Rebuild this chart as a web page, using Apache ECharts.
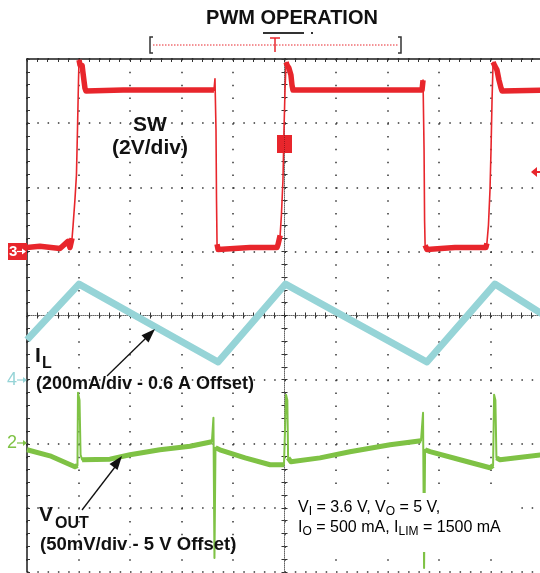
<!DOCTYPE html>
<html><head><meta charset="utf-8">
<script src="https://cdn.jsdelivr.net/npm/echarts@6/dist/echarts.min.js"></script>
<style>html,body{margin:0;padding:0;background:#fff;}#c{width:540px;height:573px;}</style>
</head><body><div id="c"></div>
<script>
// ---- time base: 10 divisions, 200 ns/div ----
const timeMin = 0, timeMax = 2000, timePerDiv = 200;
const divsY = 8;

// ---- SW (channel 3): 2 V/div, ground marker 1 div above centre ----
const swAxis = { min: -10, max: 6, perDiv: 2 };
const swTime = [0, 50, 128, 159, 167, 175, 179, 186, 192, 196, 200, 202, 206, 210, 214, 217, 221, 225, 229, 373, 726,
  730, 734, 736, 738, 742, 866, 971, 975, 983, 988, 994, 998, 1002, 1006, 1010, 1017, 1025, 1029, 1033, 1293, 1534,
  1538, 1542, 1544, 1546, 1553, 1662, 1782, 1786, 1792, 1798, 1802, 1806, 1810, 1817, 1825, 1833, 1841, 1845, 2000];
const swVolt = [0.12, 0.16, 0.09, 0.31, 0.12, 0.41, 0.81, 1.59, 2.38, 3.78, 5.34, 5.97, 5.81, 5.75, 5.80, 5.60, 5.34, 5.09, 5.00, 5.03, 5.03,
  5.38, 3.78, 1.59, 0.22, 0.06, 0.12, 0.12, 0.22, 0.50, 1.13, 2.22, 3.78, 5.03, 5.90, 5.81, 5.72, 5.50, 5.19, 5.03, 5.03, 5.03,
  5.34, 3.16, 0.97, 0.19, 0.06, 0.12, 0.12, 0.25, 0.81, 1.91, 3.16, 4.72, 5.90, 5.78, 5.66, 5.34, 5.09, 5.00, 5.03];

// ---- IL (channel 4): 200 mA/div, 0.6 A offset at marker (1 div below centre) ----
const ilAxis = { min: 0.0, max: 1.6, perDiv: 0.2 };
const ilTime = [0, 202, 742, 1004, 1553, 1817, 2000];
const ilAmp  = [0.724, 0.898, 0.655, 0.898, 0.655, 0.898, 0.805];

// ---- VOUT (channel 2): 50 mV/div, 5 V offset at marker (2 div below centre) ----
const voAxis = { min: 4.9, max: 5.3, perDiv: 0.05 };
const voTime = [0, 89, 186, 196, 198, 204, 208, 214, 322, 400, 516, 633, 718, 722, 724, 728, 732, 749, 847, 944, 998,
  1006, 1011, 1014, 1025, 1138, 1254, 1410, 1530, 1536, 1538, 1542, 1546, 1565, 1682, 1798, 1810, 1814, 1819, 1823, 1837, 2000];
const voVolt = [4.9953, 4.9906, 4.9820, 4.9830, 5.0398, 5.0340, 4.9914, 4.9875, 4.9880, 4.9914, 4.9953, 4.9980, 5.0016, 5.0030, 5.0203, 4.9110, 4.9969, 4.9953, 4.9890, 4.9836, 4.9836,
  5.0383, 5.0340, 4.9890, 4.9860, 4.9890, 4.9938, 4.9992, 5.0023, 5.0030, 5.0242, 4.9031, 4.9953, 4.9938, 4.9875, 4.9813, 4.9830, 5.0383, 5.0340, 4.9890, 4.9875, 4.9914];

// ---- text ----
const titleText = 'PWM OPERATION';
const swLabel = ['SW', '(2V/div)'];
const ilLabel = ['I', 'L', '(200mA/div - 0.6 A Offset)'];
const voLabel = ['V', 'OUT', '(50mV/div - 5 V Offset)'];
const condLine1 = '{m|V}{s|I}{m| = 3.6 V, V}{s|O}{m| = 5 V,}';
const condLine2 = '{m|I}{s|O}{m| = 500 mA, I}{s|LIM}{m| = 1500 mA}';

// ---- colours ----
const cSW = '#e8262c', cIL = '#96d4d7', cVO = '#7fc245', cGrid = '#333';

const zip = (a, b) => a.map((v, i) => [v, b[i]]);
function bandData(ts, vs, maxSlope, minDt) {
  const out = []; let open = false;
  for (let i = 0; i + 1 < ts.length; i++) {
    const dt = ts[i + 1] - ts[i];
    const flat = dt >= minDt && Math.abs(vs[i + 1] - vs[i]) / dt <= maxSlope;
    if (flat) { if (!open) out.push([ts[i], vs[i]]); out.push([ts[i + 1], vs[i + 1]]); open = true; }
    else if (open) { out.push(['-', '-']); open = false; }
  }
  return out;
}

const G = { left: 27, top: 59, width: 515, height: 513, containLabel: false, outerBoundsMode: 'none' };
const grids = [0, 1, 2, 3, 4, 5].map(() => Object.assign({}, G));
const hidX = (g) => ({ gridIndex: g, type: 'value', min: timeMin, max: timeMax, show: false });
const hidY = (g, a) => ({ gridIndex: g, type: 'value', min: a.min, max: a.max, show: false });

const tickStyle = { color: '#333', width: 1 };
const xAxes = [
  { gridIndex: 0, type: 'value', position: 'top', min: timeMin, max: timeMax, interval: timePerDiv,
    axisLine: { show: true, onZero: false, lineStyle: { color: '#1a1a1a', width: 1.5 } },
    axisTick: { show: true, inside: true, length: 3, lineStyle: tickStyle },
    minorTick: { show: true, splitNumber: 5, length: 3, lineStyle: tickStyle },
    axisLabel: { show: false },
    splitLine: { show: true, lineStyle: { color: cGrid, width: 1.5, type: [1.5, 11.33] } } },
  { gridIndex: 1, type: 'value', min: -1000, max: 1000, interval: timePerDiv,
    axisLine: { show: true, onZero: true, lineStyle: { color: '#666', width: 1, type: [1, 1] } },
    axisTick: { show: true, inside: true, length: 3, lineStyle: tickStyle },
    minorTick: { show: true, splitNumber: 5, length: 3, lineStyle: tickStyle },
    axisLabel: { show: false }, splitLine: { show: false } },
  { gridIndex: 2, type: 'value', min: -1000, max: 1000, interval: timePerDiv,
    axisLine: { show: true, onZero: true, lineStyle: { color: 'rgba(0,0,0,0)', width: 1 } },
    axisTick: { show: true, inside: false, length: 3, lineStyle: tickStyle },
    minorTick: { show: true, splitNumber: 5, length: 3, lineStyle: tickStyle },
    axisLabel: { show: false }, splitLine: { show: false } },
  hidX(3), hidX(4), hidX(5)
];
const yAxes = [
  { gridIndex: 0, type: 'value', position: 'left', min: -divsY / 2, max: divsY / 2, interval: 1,
    axisLine: { show: true, onZero: false, lineStyle: { color: '#1a1a1a', width: 1.5 } },
    axisTick: { show: true, inside: true, length: 3, lineStyle: tickStyle },
    minorTick: { show: true, splitNumber: 5, length: 3, lineStyle: tickStyle },
    axisLabel: { show: false },
    splitLine: { show: true, lineStyle: { color: cGrid, width: 1.5, type: [1.5, 8.8] } } },
  { gridIndex: 1, type: 'value', min: -divsY / 2, max: divsY / 2, interval: 1,
    axisLine: { show: true, onZero: true, lineStyle: { color: '#666', width: 1, type: [1, 1] } },
    axisTick: { show: true, inside: true, length: 3, lineStyle: tickStyle },
    minorTick: { show: true, splitNumber: 5, length: 3, lineStyle: tickStyle },
    axisLabel: { show: false }, splitLine: { show: false } },
  { gridIndex: 2, type: 'value', min: -divsY / 2, max: divsY / 2, interval: 1,
    axisLine: { show: true, onZero: true, lineStyle: { color: 'rgba(0,0,0,0)', width: 1 } },
    axisTick: { show: true, inside: false, length: 3, lineStyle: tickStyle },
    minorTick: { show: true, splitNumber: 5, length: 3, lineStyle: tickStyle },
    axisLabel: { show: false }, splitLine: { show: false } },
  hidY(3, ilAxis), hidY(4, voAxis), hidY(5, swAxis)
];

const line = (xi, data, color, width, z) => ({
  type: 'line', xAxisIndex: xi, yAxisIndex: xi, data, symbol: 'none', showSymbol: false, silent: true,
  connectNulls: false, lineStyle: { color, width, join: 'round' }, z
});

const series = [
  line(3, zip(ilTime, ilAmp), cIL, 7, 3),
  line(4, bandData(voTime, voVolt, 0.002, 8), cVO, 5, 4),
  line(4, zip(voTime, voVolt), cVO, 2, 4),
  line(5, bandData(swTime, swVolt, 0.08, 0), cSW, 5.5, 5),
  line(5, zip(swTime, swVolt), cSW, 1.6, 5)
];

const F = '"Liberation Sans", Arial, sans-serif';
const T = (x, y, text, font, fill, align) => ({ type: 'text', x, y, z: 60,
  style: { text, font: font + ' ' + F, fill, align: align || 'left', verticalAlign: 'middle' } });
const L = (x1, y1, x2, y2, stroke, w, dash) => ({ type: 'line', z: 55, shape: { x1, y1, x2, y2 },
  style: { stroke, lineWidth: w, lineDash: dash || null } });
const P = (pts, fill) => ({ type: 'polygon', z: 55, shape: { points: pts }, style: { fill } });
const richSt = { m: { fontSize: 16, fontFamily: F, color: '#333', lineHeight: 20, verticalAlign: 'middle' },
                 s: { fontSize: 12, fontFamily: F, color: '#333', lineHeight: 10, verticalAlign: 'bottom' } };

const graphic = [
  T(292, 18, titleText, 'bold 20px', '#111', 'center'),
  L(263, 33, 304, 33, '#333', 2), L(311, 33, 313, 33, '#333', 2),
  { type: 'polyline', z: 55, shape: { points: [[153, 37], [150, 37], [150, 53], [153, 53]] }, style: { stroke: '#333', lineWidth: 1.5, fill: null } },
  { type: 'polyline', z: 55, shape: { points: [[398, 37], [401, 37], [401, 53], [398, 53]] }, style: { stroke: '#333', lineWidth: 1.5, fill: null } },
  L(153, 45, 398, 45, cSW, 1, [1.5, 1.5]),
  L(270, 38, 280, 38, cSW, 1.5), L(275, 38, 275, 52, cSW, 1.5),
  { type: 'rect', z: 55, shape: { x: 277, y: 135, width: 15, height: 18 }, style: { fill: cSW } },
  L(284.5, 135, 284.5, 153, '#a0161b', 1, [1, 1]),
  P([[531, 172], [537, 167], [537, 177]], cSW), L(536, 172, 540, 172, cSW, 2),
  { type: 'rect', z: 55, shape: { x: 8, y: 243, width: 19, height: 17 }, style: { fill: cSW } },
  T(9, 252, '3', 'bold 15px', '#fff'), L(17, 251.5, 25, 251.5, '#fff', 1.2), P([[26, 251.5], [22, 248.5], [22, 254.5]], '#fff'),
  T(7, 380, '4', '18px', cIL), L(17, 380, 25, 380, cIL, 1.2), P([[27, 380], [23, 377], [23, 383]], cIL),
  T(7, 443, '2', '18px', cVO), L(17, 443, 25, 443, cVO, 1.2), P([[27, 443], [23, 440], [23, 446]], cVO),
  T(150, 125, swLabel[0], 'bold 21px', '#111', 'center'),
  T(150, 148, swLabel[1], 'bold 21px', '#111', 'center'),
  T(35, 356.5, ilLabel[0], 'bold 21px', '#111'),
  T(42, 364, ilLabel[1], 'bold 16px', '#111'),
  T(36, 384, ilLabel[2], 'bold 18px', '#111'),
  L(107, 376, 146, 338, '#111', 1.3), P([[155, 329], [148.5, 342.4], [141.5, 335.2]], '#111'),
  T(39, 515.5, voLabel[0], 'bold 21px', '#111'),
  T(55, 524, voLabel[1], 'bold 16px', '#111'),
  T(40, 545, voLabel[2], 'bold 18.5px', '#111'),
  L(82, 510, 115, 467, '#111', 1.3), P([[122, 456], [117.5, 470], [109.5, 464]], '#111'),
  { type: 'rect', z: 58, shape: { x: 290, y: 493, width: 230, height: 59 }, style: { fill: '#fff' } },
  { type: 'text', x: 298, y: 508, z: 60, style: { text: condLine1, rich: richSt, verticalAlign: 'middle', align: 'left' } },
  { type: 'text', x: 298, y: 528, z: 60, style: { text: condLine2, rich: richSt, verticalAlign: 'middle', align: 'left' } }
];

const chart = echarts.init(document.getElementById('c'), null, { renderer: 'canvas' });
chart.setOption({ animation: false, backgroundColor: '#fff', grid: grids, xAxis: xAxes, yAxis: yAxes, series, graphic });
</script></body></html>
